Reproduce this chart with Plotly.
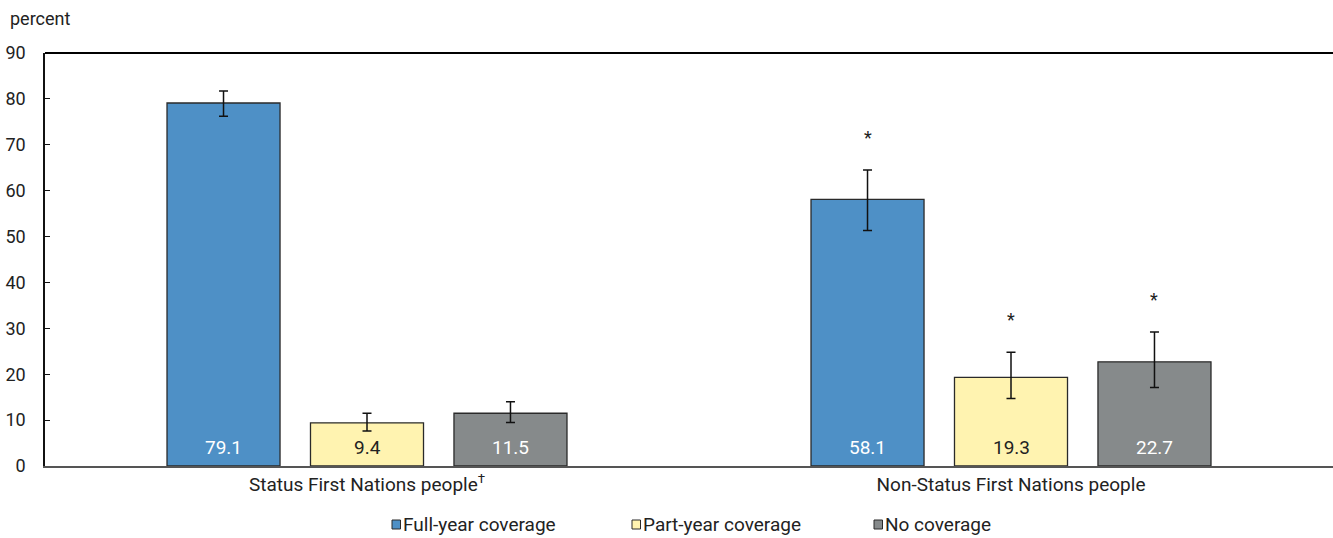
import plotly.graph_objects as go

# Health coverage by group, percent
groups = ["Status First Nations people", "Non-Status First Nations people"]
group_ticktext = ["Status First Nations people<sup>†</sup>", "Non-Status First Nations people"]
series_names = ["Full-year coverage", "Part-year coverage", "No coverage"]
full_year = [79.1, 58.1]
part_year = [9.4, 19.3]
no_cov = [11.5, 22.7]
# confidence interval half-widths (upper, lower)
full_year_up = [2.6, 6.4]
full_year_dn = [2.9, 6.8]
part_year_up = [2.1, 5.5]
part_year_dn = [1.8, 4.6]
no_cov_up = [2.5, 6.5]
no_cov_dn = [2.0, 5.6]
# significantly different from reference group (†)
full_year_sig = [False, True]
part_year_sig = [False, True]
no_cov_sig = [False, True]

y_ticks = [0, 10, 20, 30, 40, 50, 60, 70, 80, 90]

values = [full_year, part_year, no_cov]
ups = [full_year_up, part_year_up, no_cov_up]
dns = [full_year_dn, part_year_dn, no_cov_dn]
sigs = [full_year_sig, part_year_sig, no_cov_sig]
fills = ["#4e90c6", "#fff3b0", "#868a8b"]
label_colors = ["#ffffff", "#222222", "#ffffff"]

FONT = "Liberation Sans Narrow, Arial Narrow, Roboto, sans-serif"
TEXT = "#222222"

W, H = 1333, 538
ML, MR, MT, MB = 45, 0, 53, 72
PW = W - ML - MR
PH = H - MT - MB

bar_w = 0.1755
pitch = 0.2228

fig = go.Figure()
annotations = []
shapes = []

for i, name in enumerate(series_names):
    center = (i - 1) * pitch
    fig.add_trace(go.Bar(
        name=name,
        x=groups,
        y=values[i],
        width=bar_w,
        offset=center - bar_w / 2,
        marker=dict(color=fills[i], line=dict(color="#2a2a2a", width=1.3)),
        error_y=dict(type="data", symmetric=False, array=ups[i], arrayminus=dns[i],
                     color="#111111", thickness=1.5, width=4.5),
        showlegend=False,
        hoverinfo="y+name",
    ))
    for g in range(len(groups)):
        # value label near the base of the bar
        annotations.append(dict(
            x=g + center, y=0, xref="x", yref="y",
            text=f"{values[i][g]:.1f}", showarrow=False,
            yanchor="middle", yshift=19,
            font=dict(family=FONT, size=19, color=label_colors[i]),
        ))
        if sigs[i][g]:
            annotations.append(dict(
                x=g + center, y=values[i][g] + ups[i][g], xref="x", yref="y",
                text="*", showarrow=False, yanchor="bottom", yshift=20,
                font=dict(family=FONT, size=18, color=TEXT),
            ))

# legend: small bordered swatch followed by the series name
legend_x = [392, 632, 874]
sq = 8.5
sq_top, sq_bot = 520, 529
for i, name in enumerate(series_names):
    x0 = (legend_x[i] - ML) / PW
    x1 = (legend_x[i] + sq - ML) / PW
    y0 = (MT + PH - sq_bot) / PH
    y1 = (MT + PH - sq_top) / PH
    shapes.append(dict(type="rect", xref="paper", yref="paper", x0=x0, x1=x1, y0=y0, y1=y1,
                       fillcolor=fills[i], line=dict(color="#2a2a2a", width=1)))
    annotations.append(dict(
        x=(legend_x[i] + sq + 0.5 - ML) / PW, y=(MT + PH - 524) / PH,
        xref="paper", yref="paper", xanchor="left", yanchor="middle",
        text=name, showarrow=False, font=dict(family=FONT, size=19, color=TEXT),
    ))

# unit label above the value axis
annotations.append(dict(
    x=(8 - ML) / PW, y=(MT + PH - 18) / PH, xref="paper", yref="paper",
    xanchor="left", yanchor="middle", text="percent", showarrow=False,
    font=dict(family=FONT, size=18, color=TEXT),
))

# top frame line
shapes.append(dict(type="line", xref="paper", yref="paper", x0=0, x1=1, y0=1, y1=1,
                   line=dict(color="#000000", width=2)))

fig.update_layout(
    width=W, height=H,
    margin=dict(l=ML, r=MR, t=MT, b=MB, pad=0),
    paper_bgcolor="white", plot_bgcolor="white",
    barmode="overlay",
    font=dict(family=FONT, size=18, color=TEXT),
    annotations=annotations,
    shapes=shapes,
    showlegend=False,
)
fig.update_xaxes(
    type="category", range=[-0.5, 1.5],
    tickvals=groups, ticktext=group_ticktext,
    showline=True, linecolor="#555555", linewidth=2,
    ticks="", showgrid=False, zeroline=False,
    tickfont=dict(family=FONT, size=19, color=TEXT),
)
fig.update_yaxes(
    range=[0, 90], tickvals=y_ticks,
    showline=True, linecolor="#111111", linewidth=1.5,
    ticks="inside", ticklen=5, tickcolor="#111111", tickwidth=1.2,
    showgrid=False, zeroline=False,
    ticklabelstandoff=14,
    tickfont=dict(family=FONT, size=18, color=TEXT),
)

fig.write_html("out.html")
